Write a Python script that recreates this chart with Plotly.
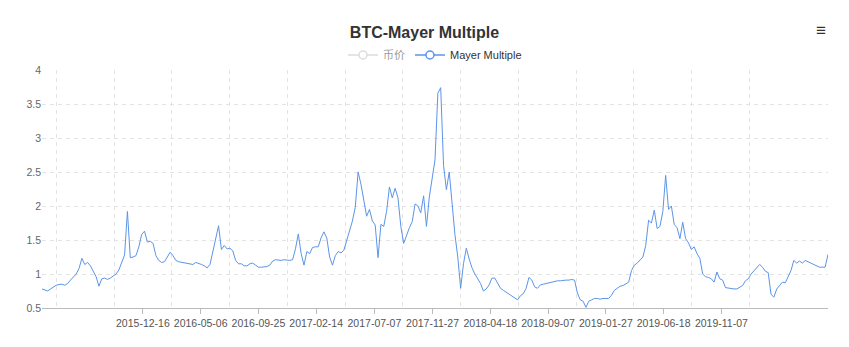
import pandas as pd
import plotly.graph_objects as go

# Weekly Mayer Multiple readings (price / 200-day moving average)
start_date = "2015-04-12"
mayer_multiple = [
    0.78, 0.76, 0.75, 0.78, 0.81, 0.835, 0.845, 0.85, 0.835, 0.86,
    0.91, 0.95, 1.00, 1.08, 1.23, 1.14, 1.17, 1.12, 1.05, 0.96,
    0.82, 0.93, 0.94, 0.92, 0.94, 0.97, 1.00, 1.06, 1.16, 1.28,
    1.92, 1.24, 1.25, 1.27, 1.40, 1.58, 1.63, 1.47, 1.48, 1.45,
    1.27, 1.20, 1.17, 1.18, 1.25, 1.32, 1.27, 1.20, 1.18, 1.17,
    1.16, 1.15, 1.15, 1.14, 1.17, 1.16, 1.14, 1.12, 1.09, 1.14,
    1.34, 1.50, 1.71, 1.36, 1.42, 1.37, 1.38, 1.34, 1.20, 1.15,
    1.15, 1.12, 1.12, 1.15, 1.16, 1.13, 1.10, 1.10, 1.10, 1.11,
    1.13, 1.19, 1.21, 1.20, 1.20, 1.21, 1.20, 1.20, 1.21, 1.37,
    1.59, 1.30, 1.13, 1.33, 1.30, 1.39, 1.40, 1.40, 1.53, 1.62,
    1.53, 1.25, 1.13, 1.27, 1.33, 1.31, 1.35, 1.50, 1.66, 1.78,
    1.98, 2.50, 2.32, 2.05, 1.85, 1.95, 1.78, 1.72, 1.24, 1.73,
    1.70, 1.92, 2.28, 2.12, 2.26, 2.12, 1.70, 1.45, 1.57, 1.68,
    1.77, 2.03, 2.00, 1.90, 2.15, 1.70, 2.13, 2.43, 2.68, 3.66,
    3.74, 2.60, 2.24, 2.50, 1.97, 1.58, 1.25, 0.79, 1.15, 1.38,
    1.22, 1.09, 1.00, 0.93, 0.86, 0.75, 0.78, 0.84, 0.94, 0.94,
    0.86, 0.79, 0.76, 0.73, 0.71, 0.67, 0.64, 0.62, 0.68, 0.71,
    0.79, 0.95, 0.91, 0.81, 0.79, 0.84, 0.85, 0.86, 0.88, 0.89,
    0.90, 0.90, 0.90, 0.91, 0.91, 0.91, 0.92, 0.91, 0.72, 0.62,
    0.60, 0.51, 0.60, 0.62, 0.64, 0.64, 0.63, 0.64, 0.64, 0.64,
    0.69, 0.76, 0.79, 0.82, 0.83, 0.85, 0.88, 1.05, 1.13, 1.16,
    1.21, 1.25, 1.42, 1.79, 1.75, 1.94, 1.67, 1.70, 1.92, 2.45,
    1.95, 2.00, 1.73, 1.68, 1.52, 1.76, 1.52, 1.46, 1.36, 1.40,
    1.30, 1.23, 1.00, 0.96, 0.95, 0.93, 0.88, 1.03, 0.93, 0.91,
    0.80, 0.79, 0.79, 0.78, 0.78, 0.80, 0.83, 0.90, 0.93, 1.00,
    1.05, 1.10, 1.14, 1.10, 1.04, 1.02, 0.70, 0.66, 0.78, 0.83,
    0.88, 0.87, 0.95, 1.05, 1.20, 1.16, 1.19, 1.16, 1.20, 1.18,
    1.16, 1.14, 1.11, 1.10, 1.10, 1.10, 1.29,
]
dates = pd.date_range(start_date, periods=len(mayer_multiple), freq="7D")

tick_labels = [
    "2015-12-16", "2016-05-06", "2016-09-25", "2017-02-14", "2017-07-07",
    "2017-11-27", "2018-04-18", "2018-09-07", "2019-01-27", "2019-06-18",
    "2019-11-07",
]
y_ticks = [0.5, 1, 1.5, 2, 2.5, 3, 3.5, 4]

# split lines sit halfway between labelled ticks
step = pd.Timestamp(tick_labels[1]) - pd.Timestamp(tick_labels[0])
first = pd.Timestamp(tick_labels[0])
grid_dates = [first + step * (n + 0.5) for n in range(-2, len(tick_labels))]

LINE = "#5b94ea"
GRID = "#e3e3e3"
DASH = "4px,4px"
FONT = "Liberation Sans, Noto Sans CJK SC, sans-serif"

fig = go.Figure()
# price series is switched off; only its legend entry is shown
fig.add_trace(go.Scatter(
    x=[None], y=[None], name="币价", mode="lines+markers", visible="legendonly",
    line=dict(color="#bbbbbb", width=1.5),
    marker=dict(symbol="circle", size=8, color="white",
                line=dict(color="#bbbbbb", width=1.5)),
))
fig.add_trace(go.Scatter(
    x=dates, y=mayer_multiple, name="Mayer Multiple", mode="lines",
    line=dict(color=LINE, width=1), showlegend=False, legendgroup="mm",
    hoverinfo="x+y",
))
fig.add_trace(go.Scatter(
    x=[None], y=[None], name="Mayer Multiple", mode="lines+markers",
    legendgroup="mm",
    line=dict(color=LINE, width=1.5),
    marker=dict(symbol="circle", size=8, color="white",
                line=dict(color=LINE, width=1.5)),
))

fig.update_layout(
    width=849, height=347,
    margin=dict(l=42, r=21, t=70, b=39),
    paper_bgcolor="white", plot_bgcolor="white",
    font=dict(family=FONT, color="#666", size=10.5),
    title=dict(text="<b>BTC-Mayer Multiple</b>", x=0.5, xanchor="center",
               y=1 - 32 / 347, yanchor="middle", yref="container",
               font=dict(size=16, color="#333", family=FONT)),
    legend=dict(orientation="h", x=0.5, xanchor="center", y=1.063,
                yanchor="middle", itemwidth=30,
                font=dict(size=11, color="#333", family=FONT),
                bgcolor="rgba(0,0,0,0)"),
    showlegend=True,
    annotations=[dict(text="<b>≡</b>", x=1.0, y=1.215, xref="paper",
                      yref="paper", showarrow=False,
                      font=dict(size=17, color="#333"))],
)

fig.update_xaxes(
    type="date",
    range=[dates[0], dates[-1]],
    tickmode="array", tickvals=tick_labels, ticktext=tick_labels,
    ticks="outside", ticklen=5, tickcolor="#bbb",
    showgrid=False, showline=True, linecolor="#bbb", linewidth=1,
    tickfont=dict(size=10.5, color="#555"),
    minor=dict(tickmode="array", tickvals=grid_dates, showgrid=True,
               gridcolor=GRID, griddash=DASH, gridwidth=1, ticks=""),
    zeroline=False,
)
fig.update_yaxes(
    range=[0.5, 4], tickmode="array", tickvals=y_ticks,
    ticktext=[f"{v:g}" for v in y_ticks],
    showgrid=True, gridcolor=GRID, griddash=DASH, gridwidth=1,
    showline=False, zeroline=False, ticks="",
    tickfont=dict(size=10.5, color="#666"),
)

fig.write_html("out.html")
